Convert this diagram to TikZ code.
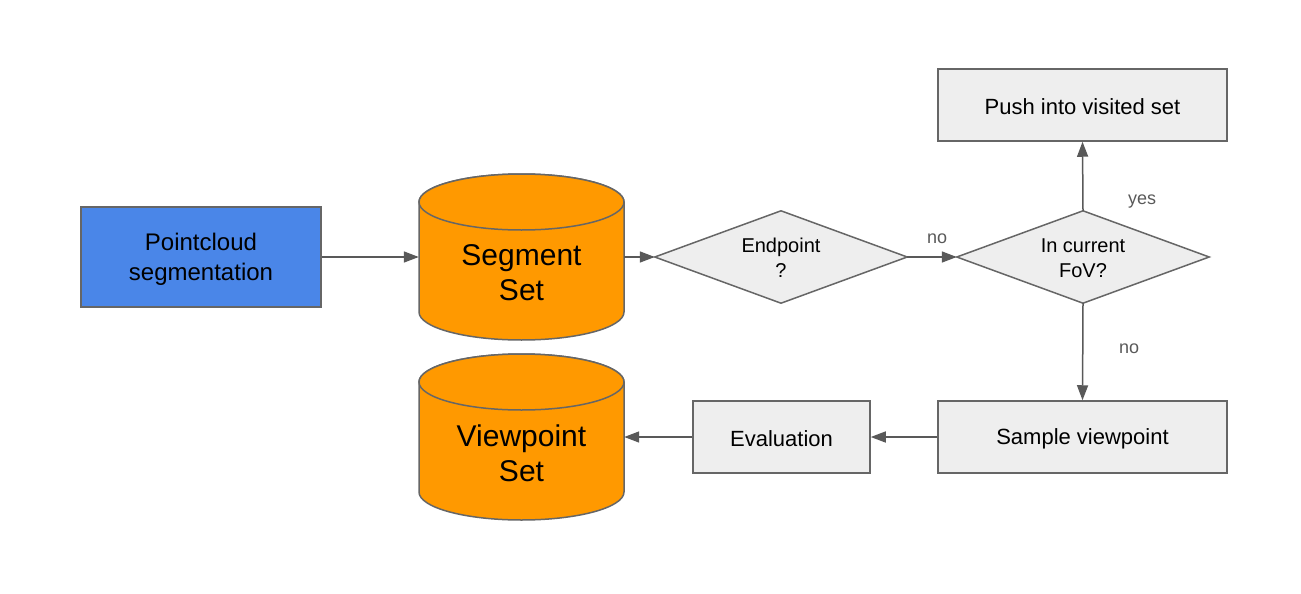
\documentclass[tikz,border=0pt]{standalone}
\usepackage{fontspec}
\setmainfont{Liberation Sans}
\usetikzlibrary{arrows.meta}
\definecolor{boxfill}{HTML}{EEEEEE}
\definecolor{boxline}{HTML}{666666}
\definecolor{arrowc}{HTML}{595959}
\definecolor{bluefill}{HTML}{4A86E8}
\definecolor{orangefill}{HTML}{FF9900}
\tikzset{
  procbox/.style={draw=boxline, fill=boxfill, line width=1.5pt, minimum height=72pt, inner sep=0pt, align=center, font=\fontsize{22}{26}\selectfont},
  bluebox/.style={draw=boxline, fill=bluefill, line width=1.5pt, minimum width=240pt, minimum height=100pt, inner sep=0pt, align=center, font=\fontsize{24}{30}\selectfont},
  cylbody/.style={draw=boxline, fill=orangefill, line width=1.5pt},
  cylanchor/.style={minimum width=205pt, minimum height=166pt, inner sep=0pt},
  cyltext/.style={inner sep=0pt, align=center, font=\fontsize{30}{35}\selectfont},
  diamtext/.style={minimum width=252pt, minimum height=92pt, inner sep=0pt, align=center, font=\fontsize{20}{25}\selectfont},
  diamshape/.style={draw=boxline, fill=boxfill, line width=1.5pt},
  flow/.style={draw=arrowc, line width=1.5pt, -{Triangle[length=15pt,width=11pt]}},
  lbl/.style={text=arrowc, font=\fontsize{18}{22}\selectfont, inner sep=0pt}
}
\begin{document}
\begin{tikzpicture}[x=1pt,y=-1pt]
\useasboundingbox (0,0) rectangle (1301,594);
% Pointcloud box
\node[bluebox] (pc) at (201,257) {};
\node[bluebox, draw=none, fill=none] at (201,259) {Pointcloud\\segmentation};
% Segment Set cylinder
\path[cylbody] (419,202) -- (419,312) arc[start angle=180,end angle=360,x radius=102.5pt,y radius=28pt] -- (624,202) arc[start angle=0,end angle=180,x radius=102.5pt,y radius=28pt] -- cycle;
\draw[cylbody] (521.5,202) ellipse [x radius=102.5pt,y radius=28pt];
\node[cylanchor] (seg) at (521.5,257) {};
\node[cyltext] at (521.5,273) {Segment\\Set};
% Viewpoint Set cylinder
\path[cylbody] (419,382) -- (419,492) arc[start angle=180,end angle=360,x radius=102.5pt,y radius=28pt] -- (624,382) arc[start angle=0,end angle=180,x radius=102.5pt,y radius=28pt] -- cycle;
\draw[cylbody] (521.5,382) ellipse [x radius=102.5pt,y radius=28pt];
\node[cylanchor] (vp) at (521.5,437) {};
\node[cyltext] at (521.5,453) {Viewpoint\\Set};
% Diamonds
\node[diamtext] (ep) at (781,257) {};
\path[diamshape] (ep.west) -- (ep.north) -- (ep.east) -- (ep.south) -- cycle;
\node[diamtext] at (781,258) {Endpoint\\?};
\node[diamtext] (fov) at (1083,257) {};
\path[diamshape] (fov.west) -- (fov.north) -- (fov.east) -- (fov.south) -- cycle;
\node[diamtext] at (1083,258) {In current\\FoV?};
% Process boxes
\node[procbox, minimum width=289pt] (push) at (1082.5,105) {};
\node at (1082.5,107) [procbox, draw=none, fill=none] {Push into visited set};
\node[procbox, minimum width=289pt] (sample) at (1082.5,437) {};
\node at (1082.5,439) [procbox, draw=none, fill=none] {Sample viewpoint};
\node[procbox, minimum width=177pt] (eval) at (781.5,437) {};
\node at (781.5,439) [procbox, draw=none, fill=none] {Evaluation};
% Connectors
\draw[flow] (pc.east) -- (seg.west);
\draw[flow] (seg.east) -- (ep.west);
\draw[flow] (ep.east) -- (fov.west);
\draw[flow] (fov.north) -- (push.south);
\draw[flow] (fov.south) -- (sample.north);
\draw[flow] (sample.west) -- (eval.east);
\draw[flow] (eval.west) -- (vp.east);
% Labels
\node[lbl] (l1) at (937,239) {no};
\node[lbl] (l2) at (1142,202) {yes};
\node[lbl] (l3) at (1129,349) {no};
\end{tikzpicture}
\end{document}
